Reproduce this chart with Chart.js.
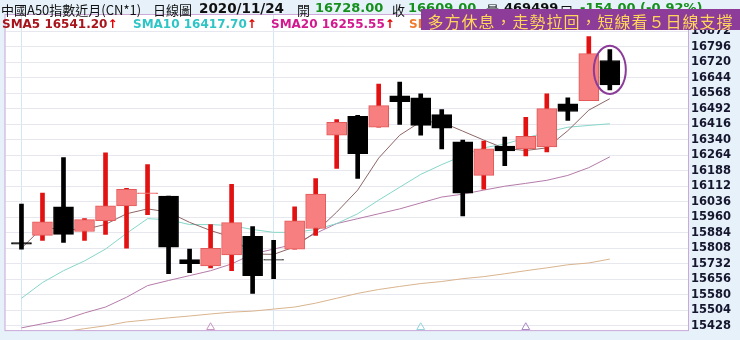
<!DOCTYPE html>
<html>
<head>
<meta charset="utf-8">
<script src="https://cdn.jsdelivr.net/npm/chart.js@4.4.0/dist/chart.umd.min.js"></script>
<style>
  html, body { margin: 0; padding: 0; background: #e6f1fa; }
  #wrap { position: relative; width: 740px; height: 340px; overflow: hidden; }
  #kline { position: absolute; left: 0; top: 0; }
  .hd span { position: absolute; top: 0; line-height: 15px; white-space: nowrap;
             font: 13px "Noto Sans CJK TC", sans-serif; color: #111; }
  .hd span.b { font: bold 13px "DejaVu Sans", sans-serif; }
  .hd span.g { color: #15901c; }
  .lg span { position: absolute; top: 17px; line-height: 13px; white-space: nowrap;
             font: bold 12px "DejaVu Sans", sans-serif; }
  .lg i { font-style: normal; color: #e00000; }
  #banner { position: absolute; left: 421px; top: 9px; width: 319px; height: 21px;
            background: #8d3c99; color: #ffd65a; text-align: center; line-height: 21px;
            font: 16px "Noto Sans CJK TC", sans-serif; letter-spacing: 1px; white-space: nowrap; }
</style>
</head>
<body>
<div id="wrap">
  <canvas id="kline" width="740" height="340"></canvas>

  <!-- 標題列 -->
  <div class="hd">
    <span style="left:1px">中國A50指數近月(CN*1)</span>
    <span style="left:153px">日線圖</span>
    <span class="b" style="left:199px;font-size:13.5px">2020/11/24</span>
    <span style="left:297px">開</span>
    <span class="b g" style="left:315px">16728.00</span>
    <span style="left:392px">收</span>
    <span class="b g" style="left:408px">16609.00</span>
    <span style="left:486px">量</span>
    <span class="b" style="left:504px">469499</span>
    <span style="left:560px">口</span>
    <span class="b g" style="left:580px">-154.00 (-0.92%)</span>
  </div>

  <!-- 均線數值 -->
  <div class="lg">
    <span style="left:2px;color:#a8141c">SMA5 16541.20<i>↑</i></span>
    <span style="left:133px;color:#2fc4c6">SMA10 16417.70<i>↑</i></span>
    <span style="left:271px;color:#d2198f">SMA20 16255.55<i>↑</i></span>
    <span style="left:409px;color:#f07a2c">SMA60</span>
  </div>

  <div id="banner">多方休息，走勢拉回，短線看５日線支撐</div>
</div>

<script>
// 日期（2020/10/15 ~ 2020/11/24 交易日）
const dates = ['10/15','10/16','10/19','10/20','10/21','10/22','10/23','10/26','10/27','10/28',
               '10/29','10/30','11/02','11/03','11/04','11/05','11/06','11/09','11/10','11/11',
               '11/12','11/13','11/16','11/17','11/18','11/19','11/20','11/23','11/24'];

// K線資料
const opens  = [15836, 15871, 16011, 15890, 15943, 16016, 16076, 16064, 15752, 15722,
                15775, 15866, 15753, 15804, 15905, 16362, 16454, 16401, 16555, 16545,
                16463, 16329, 16165, 16309, 16295, 16305, 16516, 16531, 16728];
const closes = [15828, 15938, 15876, 15948, 16016, 16097, 16080, 15813, 15733, 15808,
                15934, 15674, 15750, 15943, 16073, 16425, 16271, 16507, 16526, 16410,
                16396, 16078, 16295, 16285, 16357, 16492, 16478, 16762, 16609];
const highs  = [16025, 16078, 16252, 15953, 16276, 16102, 16218, 16064, 15804, 15924,
                16121, 15914, 15847, 16011, 16150, 16439, 16459, 16613, 16622, 16565,
                16488, 16338, 16333, 16353, 16449, 16565, 16545, 16845, 16781];
const lows   = [15804, 15847, 15837, 15847, 15876, 15808, 15972, 15683, 15688, 15712,
                15698, 15587, 15659, 15804, 15871, 16199, 16150, 16401, 16415, 16362,
                16295, 15967, 16097, 16213, 16261, 16280, 16435, 16531, 16584];

// 均線
const sma5  = [15808, 15910, 15900, 15900, 15925, 15977, 16001, 15985, 15935, 15895,
               15862, 15780, 15778, 15815, 15888, 15985, 16093, 16250, 16362, 16428,
               16426, 16382, 16338, 16297, 16287, 16300, 16384, 16485, 16541];
const sma10 = [15563, 15640, 15698, 15746, 15804, 15881, 15953, 15948, 15924, 15924,
               15919, 15900, 15886, 15886, 15900, 15929, 15977, 16044, 16107, 16170,
               16218, 16261, 16300, 16319, 16348, 16377, 16401, 16410, 16418];
const sma20 = [15418, 15438, 15457, 15491, 15520, 15568, 15625, 15650, 15674, 15698,
               15731, 15780, 15804, 15828, 15881, 15929, 15953, 15977, 16001, 16030,
               16059, 16073, 16093, 16112, 16126, 16141, 16165, 16203, 16256];
const sma60 = [15375, 15385, 15399, 15414, 15428, 15447, 15457, 15467, 15476, 15486,
               15495, 15500, 15510, 15520, 15539, 15563, 15587, 15606, 15621, 15635,
               15645, 15659, 15669, 15683, 15698, 15712, 15727, 15736, 15755];

// 右側刻度
const yTicks = [15428, 15504, 15580, 15656, 15732, 15808, 15884, 15960, 16036, 16112,
                16188, 16264, 16340, 16416, 16492, 16568, 16644, 16720, 16796, 16872];

// 底部訊號三角形
const signalIdx   = [9, 19, 24];
const signalLevel = 15421;
const signalColors = ['#c995c4', '#92d3dc', '#a987c4'];

// 分隔線位置、圈選的K棒
const dividerIdx = [0, 12];
const circledIdx = 28;

const UP_BODY = '#f87f7f', UP_EDGE = '#e25a5a', UP_WICK = '#e31212';
const DN_BODY = '#000000', DN_WICK = '#000000';

const isUp = i => closes[i] >= opens[i];
const idx = dates.map((d, i) => i);

// 背景、外框
const framePlugin = {
    id: 'frame',
    beforeDraw(chart) {
        const { ctx, chartArea: a } = chart;
        ctx.save();
        ctx.fillStyle = '#e6f1fa';
        ctx.fillRect(0, 0, chart.width, chart.height);
        ctx.fillStyle = '#ffffff';
        ctx.fillRect(a.left, a.top, a.right - a.left, a.bottom - a.top);
        ctx.restore();
    },
    afterDraw(chart) {
        const { ctx, chartArea: a } = chart;
        ctx.save();
        ctx.strokeStyle = '#cda8d8';
        ctx.lineWidth = 1;
        ctx.strokeRect(a.left - 0.5, a.top - 0.5, a.right - a.left + 1, a.bottom - a.top + 1);
        ctx.restore();
    }
};

// 圈出最後一根K棒
const circlePlugin = {
    id: 'circle',
    afterDatasetsDraw(chart) {
        const { ctx, scales: { x, y } } = chart;
        const cx = x.getPixelForValue(circledIdx);
        const top = y.getPixelForValue(highs[circledIdx]);
        const bot = y.getPixelForValue(lows[circledIdx]);
        ctx.save();
        ctx.strokeStyle = '#8a3c98';
        ctx.lineWidth = 2;
        ctx.beginPath();
        ctx.ellipse(cx, (top + bot) / 2, 16, (bot - top) / 2 + 4, 0, 0, Math.PI * 2);
        ctx.stroke();
        ctx.restore();
    }
};

const smaLine = (data, color, order) => ({
    type: 'line',
    data: idx.map(i => ({ x: i, y: data[i] })),
    borderColor: color,
    borderWidth: 1,
    pointRadius: 0,
    tension: 0,
    order
});

new Chart(document.getElementById('kline'), {
    type: 'bar',
    data: {
        datasets: [
            smaLine(sma60, '#d9b48e', 10),
            smaLine(sma20, '#b57ba9', 9),
            smaLine(sma10, '#86d6c9', 8),
            smaLine(sma5, '#8d6666', 7),
            {
                // 影線
                data: idx.map(i => ({ x: i, y: [lows[i], highs[i]] })),
                backgroundColor: idx.map(i => isUp(i) ? UP_WICK : DN_WICK),
                borderWidth: 0,
                barThickness: 4,
                grouped: false,
                order: 6
            },
            {
                // 實體
                data: idx.map(i => ({ x: i, y: [opens[i], closes[i]] })),
                backgroundColor: idx.map(i => isUp(i) ? UP_BODY : DN_BODY),
                borderColor: idx.map(i => isUp(i) ? UP_EDGE : DN_BODY),
                borderWidth: 1,
                borderSkipped: false,
                barThickness: 20,
                grouped: false,
                order: 5
            },
            {
                type: 'scatter',
                data: signalIdx.map(i => ({ x: i, y: signalLevel })),
                pointStyle: 'triangle',
                pointRadius: 4.5,
                pointBackgroundColor: 'rgba(0,0,0,0)',
                pointBorderColor: signalColors,
                pointBorderWidth: 1,
                order: 4
            }
        ]
    },
    options: {
        responsive: false,
        animation: false,
        events: [],
        layout: { padding: { left: 2, top: 15, right: 0, bottom: 4 } },
        plugins: { legend: { display: false }, tooltip: { enabled: false } },
        scales: {
            x: {
                type: 'linear',
                min: -0.76,
                max: 31.72,
                offset: false,
                afterBuildTicks: s => { s.ticks = dividerIdx.map(v => ({ value: v })); },
                afterFit: s => { s.height = 0; },
                ticks: { display: false },
                border: { display: false },
                grid: { offset: false, drawTicks: false, color: '#d3e6f3' }
            },
            y: {
                position: 'right',
                min: 15407,
                max: 16951,
                afterBuildTicks: s => { s.ticks = yTicks.map(v => ({ value: v })); },
                afterFit: s => { s.width = 52; },
                border: { display: false },
                grid: { drawTicks: false, color: '#e7e7ef' },
                ticks: {
                    padding: 3,
                    color: '#16162e',
                    font: { family: 'DejaVu Sans', weight: 'bold', size: 11.5 },
                    callback: v => String(v)
                }
            }
        }
    },
    plugins: [framePlugin, circlePlugin]
});
</script>
</body>
</html>
